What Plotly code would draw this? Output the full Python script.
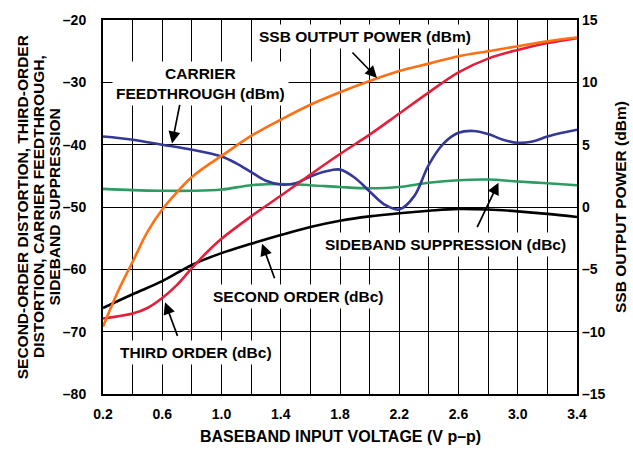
import plotly.graph_objects as go

# ---------------- data ----------------
ssb_v = [0.2, 0.3, 0.4, 0.5, 0.6, 0.7, 0.8, 0.9, 1.0, 1.2, 1.4, 1.6, 1.8, 2.0, 2.2, 2.4, 2.6, 2.8, 3.0, 3.2, 3.4]
ssb_power = [-9.6, -6.8, -4.4, -2.0, -0.2, 1.2, 2.4, 3.3, 4.1, 5.7, 7.0, 8.2, 9.2, 10.1, 10.9, 11.5, 12.1, 12.5, 12.9, 13.3, 13.6]

third_v = [0.2, 0.4, 0.5, 0.6, 0.7, 0.8, 0.9, 1.0, 1.2, 1.4, 1.6, 1.8, 2.0, 2.2, 2.4, 2.6, 2.8, 3.0, 3.2, 3.4]
third_order = [-67.9, -67.1, -66.2, -64.6, -62.5, -59.8, -57.3, -55.1, -51.5, -48.2, -44.8, -41.5, -38.4, -35.0, -31.6, -28.4, -26.2, -24.8, -23.7, -22.9]

second_v = [0.2, 0.4, 0.6, 0.8, 1.0, 1.2, 1.4, 1.6, 1.8, 2.0, 2.2, 2.4, 2.6, 2.8, 3.0, 3.2, 3.4]
second_order = [-66.2, -64.0, -61.9, -59.3, -57.4, -55.9, -54.5, -53.2, -52.2, -51.5, -51.0, -50.6, -50.3, -50.4, -50.7, -51.1, -51.6]

carrier_v = [0.2, 0.4, 0.6, 0.8, 1.0, 1.1, 1.2, 1.3, 1.4, 1.5, 1.6, 1.7, 1.8, 1.9, 2.0, 2.1, 2.2, 2.3, 2.4, 2.5, 2.6, 2.7, 2.8, 2.9, 3.0, 3.1, 3.2, 3.3, 3.4]
carrier_feed = [-38.7, -39.2, -40.0, -40.8, -41.9, -43.0, -44.4, -45.8, -46.4, -46.2, -45.1, -44.3, -44.0, -45.3, -47.5, -49.6, -50.4, -48.3, -43.2, -39.8, -38.1, -37.8, -38.3, -39.2, -39.7, -39.5, -38.7, -38.1, -37.6]

side_v = [0.2, 0.4, 0.6, 0.8, 1.0, 1.2, 1.4, 1.6, 1.8, 2.0, 2.2, 2.4, 2.6, 2.8, 3.0, 3.2, 3.4]
sideband = [-47.1, -47.3, -47.4, -47.4, -47.2, -46.5, -46.3, -46.5, -46.8, -47.0, -46.8, -46.1, -45.7, -45.6, -45.9, -46.2, -46.5]

x_tickvals = [0.2, 0.4, 0.6, 0.8, 1.0, 1.2, 1.4, 1.6, 1.8, 2.0, 2.2, 2.4, 2.6, 2.8, 3.0, 3.2, 3.4]
x_ticktext = ["0.2", "", "0.6", "", "1.0", "", "1.4", "", "1.8", "", "2.2", "", "2.6", "", "3.0", "", "3.4"]
yl_tickvals = [-80, -70, -60, -50, -40, -30, -20]
yl_ticktext = ["–80", "–70", "–60", "–50", "–40", "–30", "–20"]
yr_tickvals = [-15, -10, -5, 0, 5, 10, 15]
yr_ticktext = ["–15", "–10", "–5", "0", "5", "10", "15"]

# ---------------- figure ----------------
FONT = "Liberation Sans, Arial, Helvetica, sans-serif"
LW = 2.6

fig = go.Figure()
fig.add_trace(go.Scatter(x=side_v, y=sideband, mode="lines", line=dict(color="#2E9B62", width=LW, shape="spline")))
fig.add_trace(go.Scatter(x=carrier_v, y=carrier_feed, mode="lines", line=dict(color="#343896", width=LW, shape="spline")))
fig.add_trace(go.Scatter(x=second_v, y=second_order, mode="lines", line=dict(color="#000000", width=LW, shape="spline")))
fig.add_trace(go.Scatter(x=third_v, y=third_order, mode="lines", line=dict(color="#E2203C", width=LW, shape="spline")))
fig.add_trace(go.Scatter(x=ssb_v, y=ssb_power, mode="lines", yaxis="y2", line=dict(color="#FF7014", width=LW, shape="spline")))

tickfont = dict(family=FONT, size=14, color="black", weight="bold")

fig.update_layout(
    width=633, height=451,
    margin=dict(l=103, r=56, t=16, b=57),
    paper_bgcolor="white", plot_bgcolor="white",
    showlegend=False,
    font=dict(family=FONT, color="black"),
    xaxis=dict(range=[0.2, 3.4], tickvals=x_tickvals, ticktext=x_ticktext,
               showgrid=True, gridcolor="black", gridwidth=1.3,
               showline=True, linecolor="black", linewidth=2, mirror=True,
               ticks="", tickfont=tickfont, ticklabelstandoff=6, zeroline=False),
    yaxis=dict(range=[-80, -20], tickvals=yl_tickvals, ticktext=yl_ticktext,
               showgrid=True, gridcolor="black", gridwidth=1.3,
               showline=True, linecolor="black", linewidth=2, mirror=True,
               ticks="", tickfont=tickfont, ticklabelstandoff=12, zeroline=False),
    yaxis2=dict(range=[-15, 15], tickvals=yr_tickvals, ticktext=yr_ticktext,
                overlaying="y", side="right", showgrid=False, zeroline=False,
                showline=False, ticks="", tickfont=tickfont, ticklabelstandoff=4),
)

afont = dict(family=FONT, size=15.5, color="black", weight="bold")

def label(text, x, y, yref="y"):
    fig.add_annotation(text=text, x=x, y=y, xref="x", yref=yref, showarrow=False,
                       font=afont, bgcolor="white", borderpad=3, align="center",
                       xanchor="center", yanchor="middle")

def arrow(x, y, ax, ay, yref="y"):
    fig.add_annotation(text="", x=x, y=y, xref="x", yref=yref, ax=ax, ay=ay,
                       showarrow=True, arrowhead=2, arrowsize=1.4, arrowwidth=1.7,
                       arrowcolor="black")

label("SSB OUTPUT POWER (dBm)", 1.966, -22.7)
label("CARRIER<br>FEEDTHROUGH (dBm)", 0.855, -30.2)
label("SIDEBAND SUPPRESSION (dBc)", 2.509, -56.0)
label("SECOND ORDER (dBc)", 1.523, -64.3)
label("THIRD ORDER (dBc)", 0.825, -73.4)

arrow(2.05, 10.35, -26, -27, yref="y2")
arrow(0.666, -39.8, 8, -40)
arrow(2.87, -46.1, -22, 46)
arrow(1.274, -55.9, 13, 36)
arrow(0.619, -65.3, 13, 35)

# axis titles
tfont = dict(family=FONT, size=15.5, color="black", weight="bold")
left_lines = ["SECOND-ORDER DISTORTION, THIRD-ORDER", "DISTORTION, CARRIER FEEDTHROUGH,", "SIDEBAND SUPPRESSION"]
left_px = [22.3, 38.0, 53.5]
for txt, px in zip(left_lines, left_px):
    fig.add_annotation(text=txt, xref="paper", yref="paper", x=(px - 103) / 474, y=0.5,
                       textangle=-90, showarrow=False, font=tfont,
                       xanchor="center", yanchor="middle")
fig.add_annotation(text="SSB OUTPUT POWER (dBm)", xref="paper", yref="paper",
                   x=(620 - 103) / 474, y=0.5, textangle=-90, showarrow=False,
                   font=tfont, xanchor="center", yanchor="middle")
fig.add_annotation(text="BASEBAND INPUT VOLTAGE (V p–p)", xref="paper", yref="paper",
                   x=0.5, y=1 - (437 - 16) / 378, showarrow=False,
                   font=dict(family=FONT, size=16, color="black", weight="bold"),
                   xanchor="center", yanchor="middle")

fig.write_html("out.html", config={"displayModeBar": False},
               post_script="document.body.style.margin='0';document.body.style.overflow='hidden';")
